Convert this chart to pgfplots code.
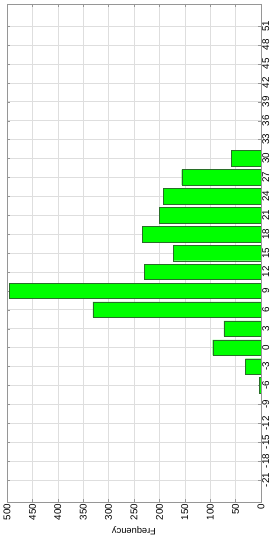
\documentclass[border=0pt]{standalone}
\usepackage{pgfplots}
\pgfplotsset{compat=1.18}
\usepackage{fontspec}
\setmainfont{Liberation Sans}
\definecolor{gridc}{RGB}{222,222,222}
\definecolor{axc}{RGB}{150,150,150}
\begin{document}
\begin{tikzpicture}
\begin{axis}[name=ax,
  scale only axis, width=254pt, height=498pt,
  xbar, bar width=15.5pt,
  x dir=reverse,
  xmin=0, xmax=500,
  ymin=-24.5, ymax=54.5,
  xtick={0,50,...,500},
  ytick={-21,-18,...,51},
  yticklabels={-21,-18,-15,-12,-9,-6,-3,0,3,6,9,12,15,18,21,24,27,30,33,36,39,42,45,48,51},
  yticklabel pos=right,
  tick align=inside,
  major tick length=3pt,
  tick style={axc},
  axis line style={axc},
  grid=major, grid style={gridc, line width=0.5pt},
  font=\fontsize{9.8}{10}\selectfont,
  xticklabel style={rotate=90, anchor=east, inner sep=1.5pt},
  yticklabel style={rotate=90, anchor=north, inner sep=1.2pt},
  /pgf/number format/assume math mode=true,
  xlabel={Frequency},
  xlabel style={rotate=180, at={(0.5,-0.057)}, anchor=center, font=\fontsize{9.3}{10}\selectfont},
]
\addplot[fill={rgb,255:red,0;green,255;blue,0}, draw={rgb,255:red,40;green,110;blue,40}, line width=0.4pt]
coordinates {
(3,-6) (31,-3) (95,0) (73,3) (331,6) (496,9) (230,12) (173,15) (233,18) (200,21) (192,24) (156,27) (58,30)
};
\end{axis}
\path ([shift={(-7pt,-46pt)}]ax.south west) rectangle ([shift={(17pt,4pt)}]ax.north east);
\end{tikzpicture}
\end{document}
